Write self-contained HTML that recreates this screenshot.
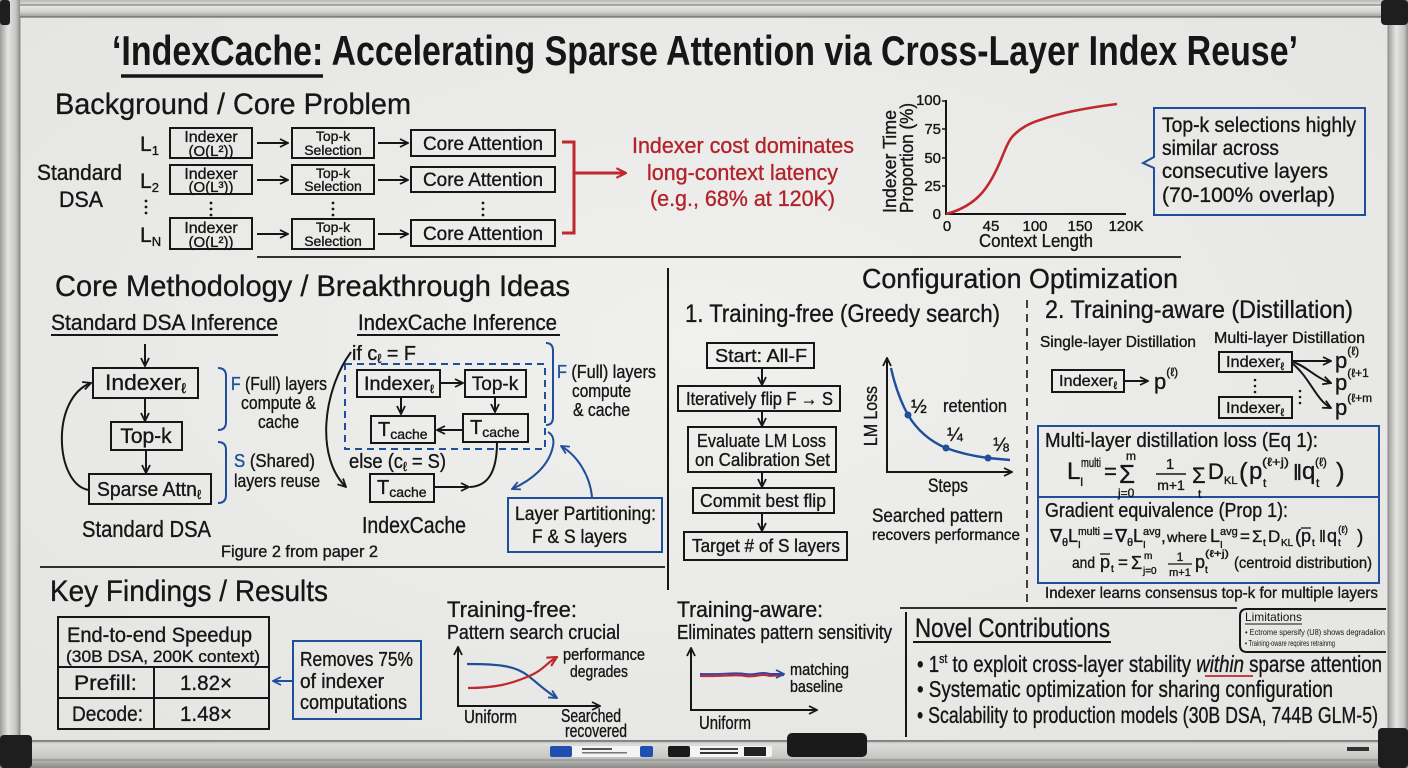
<!DOCTYPE html>
<html><head><meta charset="utf-8"><style>
html,body{margin:0;padding:0;background:#ebebe9;overflow:hidden}
svg{display:block}
text{font-family:"Liberation Sans","DejaVu Sans",sans-serif;fill:#161616;stroke:#161616;stroke-width:0.35}
.b{fill:#1f4e9a;stroke:#1f4e9a}.r{fill:#b3232b;stroke:#b3232b}
.ns{stroke:none}
.bx{fill:none;stroke:#161616;stroke-width:2}
.ln{fill:none;stroke:#161616;stroke-width:2}
</style></head><body>
<svg width="1408" height="768" viewBox="0 0 1408 768" xmlns="http://www.w3.org/2000/svg">
<defs>
<radialGradient id="bg" cx="50%" cy="45%" r="75%"><stop offset="0" stop-color="#f0f0ee"/><stop offset="1" stop-color="#e3e3e1"/></radialGradient>
<linearGradient id="gt" x1="0" y1="0" x2="0" y2="1"><stop offset="0" stop-color="#b9b9b7"/><stop offset=".35" stop-color="#e8e8e6"/><stop offset=".7" stop-color="#d2d2d0"/><stop offset="1" stop-color="#9a9a98"/></linearGradient>
<linearGradient id="gl" x1="0" y1="0" x2="1" y2="0"><stop offset="0" stop-color="#9c9c9a"/><stop offset=".4" stop-color="#e4e4e2"/><stop offset=".8" stop-color="#c4c4c2"/><stop offset="1" stop-color="#8e8e8c"/></linearGradient>
<linearGradient id="gb" x1="0" y1="0" x2="0" y2="1"><stop offset="0" stop-color="#a8a8a6"/><stop offset=".15" stop-color="#dcdcda"/><stop offset=".6" stop-color="#c8c8c6"/><stop offset="1" stop-color="#8c8c8a"/></linearGradient>
<marker id="ak" viewBox="0 0 10 10" refX="9" refY="5" markerWidth="10" markerHeight="10" markerUnits="userSpaceOnUse" orient="auto-start-reverse"><path d="M1 1 L9 5 L1 9" fill="none" stroke="#161616" stroke-width="1.8"/></marker>
<marker id="ab" viewBox="0 0 10 10" refX="9" refY="5" markerWidth="10" markerHeight="10" markerUnits="userSpaceOnUse" orient="auto-start-reverse"><path d="M1 1 L9 5 L1 9" fill="none" stroke="#1f4e9a" stroke-width="1.8"/></marker>
<marker id="ar" viewBox="0 0 10 10" refX="9" refY="5" markerWidth="12" markerHeight="12" markerUnits="userSpaceOnUse" orient="auto"><path d="M1 1 L9 5 L1 9" fill="none" stroke="#c0282d" stroke-width="1.8"/></marker>
</defs>

<!-- board -->
<rect width="1408" height="768" fill="url(#bg)"/>
<!-- frame -->
<rect x="0" y="0" width="1408" height="17" fill="url(#gt)"/>
<line x1="0" y1="5" x2="1408" y2="5" stroke="#6a6a6a" stroke-width="1"/>
<line x1="0" y1="17" x2="1408" y2="17" stroke="#6e6e6e" stroke-width="1.2"/>
<rect x="0" y="0" width="20" height="768" fill="url(#gl)"/>
<line x1="20" y1="17" x2="20" y2="740" stroke="#8a8a88" stroke-width="1"/>
<rect x="1388" y="0" width="20" height="768" fill="url(#gl)"/>
<line x1="1388" y1="17" x2="1388" y2="740" stroke="#8a8a88" stroke-width="1"/>
<rect x="0" y="740" width="1408" height="28" fill="url(#gb)"/>
<line x1="0" y1="741" x2="1408" y2="741" stroke="#6a6a6a" stroke-width="1.2"/>
<line x1="0" y1="760" x2="1408" y2="760" stroke="#8a8a88" stroke-width="1"/>
<rect x="0" y="0" width="10" height="25" rx="3" fill="#1e1e1e"/>
<rect x="1381" y="0" width="27" height="25" rx="4" fill="#1e1e1e"/>
<rect x="0" y="735" width="32" height="33" rx="4" fill="#1e1e1e"/>
<rect x="1378" y="728" width="30" height="40" rx="4" fill="#1e1e1e"/>
<!-- tray items -->
<rect x="550" y="746" width="103" height="11" rx="2" fill="#f4f4f4"/>
<rect x="550" y="746" width="22" height="11" rx="2" fill="#1f4fb0"/>
<rect x="640" y="746" width="13" height="11" rx="2" fill="#1f4fb0"/>
<rect x="582" y="748" width="30" height="2" fill="#555"/><rect x="582" y="752" width="45" height="1.5" fill="#777"/>
<rect x="668" y="746" width="104" height="11" rx="2" fill="#f4f4f4"/>
<rect x="668" y="746" width="22" height="11" rx="2" fill="#1a1a1a"/>
<rect x="744" y="747" width="22" height="9" fill="#222"/>
<rect x="700" y="748" width="38" height="2" fill="#444"/><rect x="700" y="752" width="38" height="2" fill="#333"/>
<rect x="787" y="733" width="80" height="24" rx="5" fill="#1a1a1a"/>
<rect x="1347" y="747" width="22" height="4" fill="#333"/>

<!-- TITLE -->
<text x="112" y="65" font-size="42" font-weight="bold" class="ns" textLength="1186" lengthAdjust="spacingAndGlyphs">‘IndexCache: Accelerating Sparse Attention via Cross-Layer Index Reuse’</text>
<line x1="121" y1="76" x2="323" y2="76" stroke="#161616" stroke-width="3.5"/>

<!-- BACKGROUND -->
<text x="55" y="114" font-size="30" textLength="356" lengthAdjust="spacingAndGlyphs">Background / Core Problem</text>
<text x="37" y="180" font-size="22" textLength="85" lengthAdjust="spacingAndGlyphs">Standard</text>
<text x="59" y="207" font-size="22" textLength="44" lengthAdjust="spacingAndGlyphs">DSA</text>
<text x="140" y="151" font-size="21">L<tspan font-size="13" dy="4">1</tspan></text>
<text x="140" y="188" font-size="21">L<tspan font-size="13" dy="4">2</tspan></text>
<text x="140" y="242" font-size="21">L<tspan font-size="13" dy="4">N</tspan></text>
<g fill="#161616">
<circle cx="146" cy="201" r="1.4"/><circle cx="146" cy="207" r="1.4"/><circle cx="146" cy="213" r="1.4"/>
<circle cx="211" cy="203" r="1.4"/><circle cx="211" cy="209" r="1.4"/><circle cx="211" cy="215" r="1.4"/>
<circle cx="333" cy="203" r="1.4"/><circle cx="333" cy="209" r="1.4"/><circle cx="333" cy="215" r="1.4"/>
<circle cx="483" cy="203" r="1.4"/><circle cx="483" cy="209" r="1.4"/><circle cx="483" cy="215" r="1.4"/>
</g>
<!-- row boxes -->
<g>
<rect x="170" y="128" width="82" height="30" fill="#f4cec8" class="bx"/>
<rect x="170" y="165" width="82" height="29" fill="#f4cec8" class="bx"/>
<rect x="170" y="218" width="82" height="31" fill="#f4cec8" class="bx"/>
<rect x="292" y="128" width="82" height="30" class="bx"/>
<rect x="292" y="165" width="82" height="29" class="bx"/>
<rect x="292" y="219" width="82" height="30" class="bx"/>
<rect x="411" y="130" width="144" height="26" class="bx"/>
<rect x="411" y="167" width="144" height="25" class="bx"/>
<rect x="411" y="220" width="144" height="26" class="bx"/>
</g>
<g font-size="16" text-anchor="middle">
<text x="211" y="142">Indexer</text><text x="211" y="156" font-size="15">(O(L²))</text>
<text x="211" y="179">Indexer</text><text x="211" y="192" font-size="15">(O(L³))</text>
<text x="211" y="233">Indexer</text><text x="211" y="247" font-size="15">(O(L²))</text>
</g>
<g font-size="14" text-anchor="middle">
<text x="333" y="141">Top-k</text><text x="333" y="155">Selection</text>
<text x="333" y="178">Top-k</text><text x="333" y="191">Selection</text>
<text x="333" y="232">Top-k</text><text x="333" y="246">Selection</text>
</g>
<g font-size="19">
<text x="423" y="150" textLength="120" lengthAdjust="spacingAndGlyphs">Core Attention</text>
<text x="423" y="186" textLength="120" lengthAdjust="spacingAndGlyphs">Core Attention</text>
<text x="423" y="240" textLength="120" lengthAdjust="spacingAndGlyphs">Core Attention</text>
</g>
<g class="ln" marker-end="url(#ak)">
<path d="M257 143 H288"/><path d="M378 143 H408"/>
<path d="M257 180 H288"/><path d="M378 180 H408"/>
<path d="M257 234 H288"/><path d="M378 234 H408"/>
</g>
<path d="M562 142 H574 V233 H562" fill="none" stroke="#c0282d" stroke-width="3"/>
<path d="M574 173 H626" fill="none" stroke="#c0282d" stroke-width="3" marker-end="url(#ar)"/>
<g font-size="22">
<text x="632" y="153" class="r" textLength="222" lengthAdjust="spacingAndGlyphs">Indexer cost dominates</text>
<text x="647" y="180" class="r" textLength="191" lengthAdjust="spacingAndGlyphs">long-context latency</text>
<text x="650" y="206" class="r" textLength="185" lengthAdjust="spacingAndGlyphs">(e.g., 68% at 120K)</text>
</g>
<!-- chart -->
<path d="M946 100 V214 H1126" class="ln"/>
<g stroke="#161616" stroke-width="1.5"><line x1="942" y1="129" x2="946" y2="129"/><line x1="942" y1="158" x2="946" y2="158"/><line x1="942" y1="186" x2="946" y2="186"/><line x1="942" y1="101" x2="946" y2="101"/></g>
<g font-size="15" text-anchor="end">
<text x="941" y="105">100</text><text x="941" y="134">75</text><text x="941" y="163">50</text><text x="941" y="191">25</text><text x="941" y="219">0</text>
</g>
<g font-size="15" text-anchor="middle">
<text x="947" y="231">0</text><text x="991" y="231">45</text><text x="1035" y="231">100</text><text x="1080" y="231">150</text><text x="1126" y="231">120K</text>
</g>
<text x="979" y="247" font-size="18" textLength="114" lengthAdjust="spacingAndGlyphs">Context Length</text>
<text transform="translate(896 213) rotate(-90)" font-size="18" textLength="103" lengthAdjust="spacingAndGlyphs">Indexer Time</text>
<text transform="translate(913 213) rotate(-90)" font-size="18" textLength="110" lengthAdjust="spacingAndGlyphs">Proportion (%)</text>
<path d="M946 214 C 958 211, 968 206, 977 198 C 986 190, 994 176, 1000 162 C 1005 150, 1008 142, 1012 137 C 1020 128, 1030 123, 1040 120 C 1060 113, 1085 108, 1117 104" fill="none" stroke="#c0282d" stroke-width="2.6"/>
<!-- callout -->
<path d="M1154 108 H1365 V215 H1154 V168 L1143 163 L1154 157 Z" fill="none" stroke="#1f4e9a" stroke-width="2"/>
<g font-size="21">
<text x="1162" y="132" textLength="194" lengthAdjust="spacingAndGlyphs">Top-k selections highly</text>
<text x="1162" y="155" textLength="117" lengthAdjust="spacingAndGlyphs">similar across</text>
<text x="1162" y="178" textLength="166" lengthAdjust="spacingAndGlyphs">consecutive layers</text>
<text x="1162" y="202" textLength="173" lengthAdjust="spacingAndGlyphs">(70-100% overlap)</text>
</g>
<line x1="257" y1="257" x2="1181" y2="257" stroke="#161616" stroke-width="1.8"/>

<!-- CORE METHODOLOGY -->
<text x="55" y="296" font-size="30" textLength="515" lengthAdjust="spacingAndGlyphs">Core Methodology / Breakthrough Ideas</text>
<text x="51" y="330" font-size="22" textLength="227" lengthAdjust="spacingAndGlyphs">Standard DSA Inference</text>
<line x1="51" y1="335" x2="278" y2="335" stroke="#161616" stroke-width="2"/>
<text x="358" y="330" font-size="22" textLength="199" lengthAdjust="spacingAndGlyphs">IndexCache Inference</text>
<line x1="357" y1="335" x2="560" y2="335" stroke="#161616" stroke-width="2"/>

<!-- standard DSA diagram -->
<path d="M145 344 V366" class="ln" marker-end="url(#ak)"/>
<rect x="93" y="368" width="105" height="30" fill="#f3e3dd" class="bx"/>
<text x="105" y="390" font-size="22" textLength="81" lengthAdjust="spacingAndGlyphs">Indexer<tspan font-size="14" dy="3">ℓ</tspan></text>
<path d="M145 398 V421" class="ln" marker-end="url(#ak)"/>
<rect x="111" y="422" width="71" height="28" class="bx"/>
<text x="146" y="443" font-size="21" text-anchor="middle">Top-k</text>
<path d="M146 450 V473" class="ln" marker-end="url(#ak)"/>
<rect x="89" y="474" width="122" height="30" class="bx"/>
<text x="97" y="496" font-size="20" textLength="104" lengthAdjust="spacingAndGlyphs">Sparse Attn<tspan font-size="13" dy="3">ℓ</tspan></text>
<path d="M89 490 C 55 485, 50 398, 91 383" class="ln" marker-end="url(#ak)"/>
<g fill="none" stroke="#1f4e9a" stroke-width="2">
<path d="M218 368 Q226 368 226 376 V422 Q226 430 218 430"/>
<path d="M218 442 Q226 442 226 450 V495 Q226 503 218 503"/>
</g>
<g font-size="18">
<text x="231" y="390" textLength="96" lengthAdjust="spacingAndGlyphs"><tspan class="b">F</tspan> (Full) layers</text>
<text x="241" y="409" textLength="75" lengthAdjust="spacingAndGlyphs">compute &amp;</text>
<text x="258" y="428" textLength="41" lengthAdjust="spacingAndGlyphs">cache</text>
<text x="234" y="467" textLength="81" lengthAdjust="spacingAndGlyphs"><tspan class="b">S</tspan> (Shared)</text>
<text x="234" y="487" textLength="86" lengthAdjust="spacingAndGlyphs">layers reuse</text>
</g>
<text x="82" y="537" font-size="23" textLength="129" lengthAdjust="spacingAndGlyphs">Standard DSA</text>
<text x="221" y="557" font-size="17" textLength="157" lengthAdjust="spacingAndGlyphs">Figure 2 from paper 2</text>

<!-- IndexCache diagram -->
<text x="352" y="360" font-size="20" textLength="64" lengthAdjust="spacingAndGlyphs">if c<tspan font-size="13" dy="3">ℓ</tspan><tspan dy="-3"> = F</tspan></text>
<rect x="345" y="364" width="200" height="85" fill="none" stroke="#1f4e9a" stroke-width="2" stroke-dasharray="7 5"/>
<rect x="357" y="370" width="83" height="27" class="bx"/>
<text x="364" y="390" font-size="19" textLength="70" lengthAdjust="spacingAndGlyphs">Indexer<tspan font-size="12" dy="3">ℓ</tspan></text>
<path d="M441 383 H463" class="ln" marker-end="url(#ak)"/>
<rect x="465" y="370" width="61" height="27" class="bx"/>
<text x="495" y="390" font-size="19" text-anchor="middle">Top-k</text>
<path d="M401 398 V414" class="ln" marker-end="url(#ak)"/>
<path d="M495 398 V412" class="ln" marker-end="url(#ak)"/>
<rect x="371" y="416" width="64" height="27" class="bx"/>
<text x="378" y="436" font-size="20">T<tspan font-size="14" dy="3">cache</tspan></text>
<rect x="463" y="414" width="65" height="28" fill="#cfe0f1" class="bx"/>
<text x="470" y="434" font-size="20">T<tspan font-size="14" dy="3">cache</tspan></text>
<path d="M462 430 H437" class="ln" marker-end="url(#ak)"/>
<text x="349" y="468" font-size="20" textLength="97" lengthAdjust="spacingAndGlyphs">else (c<tspan font-size="13" dy="3">ℓ</tspan><tspan dy="-3"> = S)</tspan></text>
<rect x="370" y="474" width="64" height="28" class="bx"/>
<text x="377" y="494" font-size="20">T<tspan font-size="14" dy="3">cache</tspan></text>
<path d="M434 487 H469" class="ln" marker-end="url(#ak)"/>
<path d="M497 442 C 497 472, 488 486, 470 487" class="ln"/>
<path d="M351 352 C 322 392, 316 458, 346 487" class="ln" marker-end="url(#ak)"/>
<g fill="none" stroke="#1f4e9a" stroke-width="2">
<path d="M546 343 Q553 343 553 351 V417 Q553 425 546 425"/>
<path d="M548 432 Q555 436 553 446 C 549 466 532 480 512 489" marker-end="url(#ab)"/>
<path d="M592 497 C 590 476 578 456 561 446" marker-end="url(#ab)"/>
</g>
<g font-size="18">
<text x="557" y="378" textLength="99" lengthAdjust="spacingAndGlyphs"><tspan class="b">F</tspan> (Full) layers</text>
<text x="572" y="397" textLength="59" lengthAdjust="spacingAndGlyphs">compute</text>
<text x="573" y="416" textLength="57" lengthAdjust="spacingAndGlyphs">&amp; cache</text>
</g>
<rect x="508" y="498" width="154" height="54" fill="none" stroke="#1f4e9a" stroke-width="2"/>
<text x="515" y="520" font-size="19" textLength="141" lengthAdjust="spacingAndGlyphs">Layer Partitioning:</text>
<text x="532" y="543" font-size="19" textLength="95" lengthAdjust="spacingAndGlyphs">F &amp; S layers</text>
<text x="362" y="533" font-size="23" textLength="104" lengthAdjust="spacingAndGlyphs">IndexCache</text>
<line x1="40" y1="567" x2="665" y2="567" stroke="#161616" stroke-width="1.8"/>
<line x1="668" y1="268" x2="668" y2="590" stroke="#161616" stroke-width="2"/>

<!-- CONFIGURATION -->
<text x="862" y="288" font-size="28" textLength="316" lengthAdjust="spacingAndGlyphs">Configuration Optimization</text>
<text x="685" y="322" font-size="25" textLength="315" lengthAdjust="spacingAndGlyphs">1. Training-free (Greedy search)</text>
<line x1="1027" y1="300" x2="1027" y2="602" stroke="#161616" stroke-width="1.6" stroke-dasharray="8 6"/>
<rect x="707" y="343" width="107" height="25" class="bx"/>
<text x="715" y="362" font-size="18" textLength="92" lengthAdjust="spacingAndGlyphs">Start: All-F</text>
<path d="M762 368 V385" class="ln" marker-end="url(#ak)"/>
<rect x="678" y="386" width="162" height="25" class="bx"/>
<text x="686" y="405" font-size="18" textLength="147" lengthAdjust="spacingAndGlyphs">Iteratively flip F → S</text>
<path d="M762 411 V426" class="ln" marker-end="url(#ak)"/>
<rect x="688" y="427" width="148" height="45" class="bx"/>
<text x="697" y="447" font-size="18" textLength="129" lengthAdjust="spacingAndGlyphs">Evaluate LM Loss</text>
<text x="695" y="466" font-size="18" textLength="135" lengthAdjust="spacingAndGlyphs">on Calibration Set</text>
<path d="M762 472 V487" class="ln" marker-end="url(#ak)"/>
<rect x="693" y="488" width="141" height="25" class="bx"/>
<text x="700" y="507" font-size="18" textLength="126" lengthAdjust="spacingAndGlyphs">Commit best flip</text>
<path d="M762 513 V531" class="ln" marker-end="url(#ak)"/>
<rect x="684" y="532" width="163" height="28" class="bx"/>
<text x="692" y="552" font-size="18" textLength="148" lengthAdjust="spacingAndGlyphs">Target # of S layers</text>
<!-- LM loss chart -->
<path d="M887 358 V472 H1012" class="ln" marker-start="url(#ak)" marker-end="url(#ak)"/>
<text transform="translate(877 446) rotate(-90)" font-size="18" textLength="60" lengthAdjust="spacingAndGlyphs">LM Loss</text>
<path d="M891 368 Q 897 395 908 415 Q 922 438 946 448 Q 965 455 988 458 L 1010 460" fill="none" stroke="#1f4e9a" stroke-width="2.4"/>
<g fill="#1f4e9a"><circle cx="908" cy="415" r="3.5"/><circle cx="946" cy="448" r="3.5"/><circle cx="988" cy="458" r="3.5"/></g>
<text x="911" y="413" font-size="19">½</text>
<text x="943" y="412" font-size="18" textLength="64" lengthAdjust="spacingAndGlyphs">retention</text>
<text x="947" y="441" font-size="19">¼</text>
<text x="993" y="451" font-size="19">⅛</text>
<text x="928" y="492" font-size="19" textLength="40" lengthAdjust="spacingAndGlyphs">Steps</text>
<text x="872" y="522" font-size="19" textLength="131" lengthAdjust="spacingAndGlyphs">Searched pattern</text>
<text x="872" y="540" font-size="16" textLength="148" lengthAdjust="spacingAndGlyphs">recovers performance</text>

<!-- TRAINING AWARE -->
<text x="1045" y="318" font-size="25" textLength="308" lengthAdjust="spacingAndGlyphs">2. Training-aware (Distillation)</text>
<text x="1040" y="347" font-size="16" textLength="156" lengthAdjust="spacingAndGlyphs">Single-layer Distillation</text>
<text x="1214" y="343" font-size="16" textLength="151" lengthAdjust="spacingAndGlyphs">Multi-layer Distillation</text>
<rect x="1052" y="370" width="72" height="22" fill="#f6d9cb" class="bx"/>
<text x="1059" y="386" font-size="16" textLength="58" lengthAdjust="spacingAndGlyphs">Indexer<tspan font-size="11" dy="3">ℓ</tspan></text>
<path d="M1125 381 H1148" class="ln" marker-end="url(#ak)"/>
<text x="1154" y="389" font-size="22">p<tspan font-size="12" dy="-13">(ℓ)</tspan></text>
<rect x="1219" y="352" width="73" height="20" fill="#f6d9cb" class="bx"/>
<text x="1226" y="367" font-size="16" textLength="58" lengthAdjust="spacingAndGlyphs">Indexer<tspan font-size="11" dy="3">ℓ</tspan></text>
<rect x="1219" y="397" width="73" height="21" fill="#f6d9cb" class="bx"/>
<text x="1226" y="413" font-size="16" textLength="58" lengthAdjust="spacingAndGlyphs">Indexer<tspan font-size="11" dy="3">ℓ</tspan></text>
<g fill="#161616"><circle cx="1255" cy="380" r="1.3"/><circle cx="1255" cy="386" r="1.3"/><circle cx="1255" cy="392" r="1.3"/>
<circle cx="1300" cy="391" r="1.3"/><circle cx="1300" cy="397" r="1.3"/><circle cx="1300" cy="403" r="1.3"/></g>
<g class="ln" marker-end="url(#ak)">
<path d="M1293 361 H1331"/>
<path d="M1293 362 C 1306 366, 1316 378, 1331 383"/>
<path d="M1293 364 C 1310 378, 1316 400, 1331 408"/>
</g>
<text x="1335" y="368" font-size="22">p<tspan font-size="12" dy="-13">(ℓ)</tspan></text>
<text x="1335" y="390" font-size="22">p<tspan font-size="12" dy="-13">(ℓ+1</tspan></text>
<text x="1335" y="415" font-size="22">p<tspan font-size="12" dy="-13">(ℓ+m</tspan></text>
<!-- formula box -->
<rect x="1038" y="426" width="341" height="157" fill="none" stroke="#1f4e9a" stroke-width="2"/>
<line x1="1038" y1="497" x2="1379" y2="497" stroke="#1f4e9a" stroke-width="2"/>
<text x="1045" y="447" font-size="20" textLength="273" lengthAdjust="spacingAndGlyphs">Multi-layer distillation loss (Eq 1):</text>
<g class="ns">
<text x="1067" y="479" font-size="24">L</text>
<text x="1080" y="486" font-size="12">I</text>
<text x="1081" y="467" font-size="13" textLength="20" lengthAdjust="spacingAndGlyphs">multi</text>
<text x="1104" y="479" font-size="22">=</text>
<text x="1119" y="483" font-size="26">Σ</text>
<text x="1126" y="460" font-size="12">m</text>
<text x="1118" y="497" font-size="12">j=0</text>
<text x="1170" y="469" font-size="15" text-anchor="middle">1</text>
<line x1="1156" y1="474" x2="1186" y2="474" stroke="#161616" stroke-width="1.5"/>
<text x="1171" y="490" font-size="14" text-anchor="middle">m+1</text>
<text x="1192" y="483" font-size="22">Σ</text>
<text x="1198" y="498" font-size="12">t</text>
<text x="1208" y="479" font-size="22">D</text>
<text x="1224" y="484" font-size="11">KL</text>
<text x="1239" y="481" font-size="26">(</text>
<text x="1249" y="479" font-size="24">p</text>
<text x="1263" y="487" font-size="12">t</text>
<text x="1262" y="466" font-size="12" textLength="27" lengthAdjust="spacingAndGlyphs">(ℓ+j)</text>
<text x="1293" y="480" font-size="22">‖</text>
<text x="1302" y="479" font-size="24">q</text>
<text x="1316" y="487" font-size="12">t</text>
<text x="1315" y="466" font-size="12">(ℓ)</text>
<text x="1336" y="481" font-size="26">)</text>
</g>
<text x="1045" y="517" font-size="20" textLength="243" lengthAdjust="spacingAndGlyphs">Gradient equivalence (Prop 1):</text>
<g class="ns">
<text x="1050" y="542" font-size="18">∇</text><text x="1062" y="546" font-size="11">θ</text>
<text x="1068" y="542" font-size="18">L</text><text x="1078" y="548" font-size="10">I</text><text x="1078" y="535" font-size="11" textLength="22" lengthAdjust="spacingAndGlyphs">multi</text>
<text x="1103" y="542" font-size="17">=</text>
<text x="1115" y="542" font-size="18">∇</text><text x="1127" y="546" font-size="11">θ</text>
<text x="1133" y="542" font-size="18">L</text><text x="1143" y="548" font-size="10">I</text><text x="1143" y="535" font-size="11">avg</text>
<text x="1161" y="542" font-size="17">,</text>
<text x="1167" y="542" font-size="14" textLength="40" lengthAdjust="spacingAndGlyphs">where</text>
<text x="1210" y="542" font-size="18">L</text><text x="1220" y="548" font-size="10">I</text><text x="1220" y="535" font-size="11">avg</text>
<text x="1240" y="542" font-size="17">=</text>
<text x="1252" y="542" font-size="17">Σ</text><text x="1263" y="546" font-size="10">t</text>
<text x="1268" y="542" font-size="17">D</text><text x="1281" y="546" font-size="10">KL</text>
<text x="1295" y="543" font-size="19">(</text>
<text x="1301" y="542" font-size="18">p</text><line x1="1301" y1="528" x2="1311" y2="528" stroke="#161616" stroke-width="1.3"/><text x="1312" y="546" font-size="10">t</text>
<text x="1319" y="542" font-size="17">‖</text>
<text x="1327" y="542" font-size="18">q</text><text x="1338" y="546" font-size="10">t</text><text x="1338" y="533" font-size="10">(ℓ)</text>
<text x="1357" y="543" font-size="19">)</text>
</g>
<g class="ns">
<text x="1072" y="568" font-size="16" textLength="23" lengthAdjust="spacingAndGlyphs">and</text>
<text x="1100" y="568" font-size="18">p</text><line x1="1100" y1="554" x2="1110" y2="554" stroke="#161616" stroke-width="1.3"/><text x="1111" y="572" font-size="10">t</text>
<text x="1118" y="568" font-size="17">=</text>
<text x="1131" y="569" font-size="18">Σ</text>
<text x="1144" y="559" font-size="10">m</text>
<text x="1143" y="574" font-size="10">j=0</text>
<text x="1180" y="561" font-size="12" text-anchor="middle">1</text>
<line x1="1168" y1="564" x2="1192" y2="564" stroke="#161616" stroke-width="1.2"/>
<text x="1180" y="576" font-size="11" text-anchor="middle">m+1</text>
<text x="1195" y="568" font-size="18">p</text>
<text x="1205" y="573" font-size="10">t</text>
<text x="1205" y="557" font-size="10" textLength="24" lengthAdjust="spacingAndGlyphs">(ℓ+j)</text>
<text x="1234" y="568" font-size="16" textLength="138" lengthAdjust="spacingAndGlyphs">(centroid distribution)</text>
</g>
<text x="1045" y="598" font-size="16" textLength="333" lengthAdjust="spacingAndGlyphs">Indexer learns consensus top-k for multiple layers</text>

<!-- KEY FINDINGS -->
<text x="50" y="601" font-size="30" textLength="278" lengthAdjust="spacingAndGlyphs">Key Findings / Results</text>
<rect x="58" y="617" width="211" height="112" class="bx"/>
<line x1="58" y1="667" x2="269" y2="667" stroke="#161616" stroke-width="2"/>
<line x1="58" y1="698" x2="269" y2="698" stroke="#161616" stroke-width="2"/>
<line x1="154" y1="667" x2="154" y2="729" stroke="#161616" stroke-width="2"/>
<text x="67" y="642" font-size="21" textLength="185" lengthAdjust="spacingAndGlyphs">End-to-end Speedup</text>
<text x="66" y="662" font-size="17" textLength="194" lengthAdjust="spacingAndGlyphs">(30B DSA, 200K context)</text>
<text x="74" y="690" font-size="21" textLength="63" lengthAdjust="spacingAndGlyphs">Prefill:</text>
<text x="180" y="690" font-size="21" textLength="52" lengthAdjust="spacingAndGlyphs">1.82×</text>
<text x="72" y="721" font-size="21" textLength="71" lengthAdjust="spacingAndGlyphs">Decode:</text>
<text x="180" y="721" font-size="21" textLength="52" lengthAdjust="spacingAndGlyphs">1.48×</text>
<path d="M293 681 H273" fill="none" stroke="#1f4e9a" stroke-width="2" marker-end="url(#ab)"/>
<rect x="293" y="641" width="128" height="78" fill="none" stroke="#1f4e9a" stroke-width="2"/>
<text x="300" y="666" font-size="20" textLength="113" lengthAdjust="spacingAndGlyphs">Removes 75%</text>
<text x="300" y="688" font-size="20" textLength="84" lengthAdjust="spacingAndGlyphs">of indexer</text>
<text x="300" y="709" font-size="20" textLength="107" lengthAdjust="spacingAndGlyphs">computations</text>

<!-- training-free / aware mini charts -->
<text x="447" y="617" font-size="22" textLength="130" lengthAdjust="spacingAndGlyphs">Training-free:</text>
<text x="447" y="639" font-size="20" textLength="173" lengthAdjust="spacingAndGlyphs">Pattern search crucial</text>
<path d="M458 647 V706 H600" class="ln" marker-start="url(#ak)" marker-end="url(#ak)"/>
<path d="M467 664 C 500 664, 515 666, 527 675 S 545 691, 557 698" fill="none" stroke="#1f4e9a" stroke-width="2.2" marker-end="url(#ab)"/>
<path d="M468 688 C 495 688, 510 684, 527 677 S 545 664, 557 657" fill="none" stroke="#c0282d" stroke-width="2.2" marker-end="url(#ar)"/>
<text x="563" y="660" font-size="17" textLength="82" lengthAdjust="spacingAndGlyphs">performance</text>
<text x="570" y="677" font-size="17" textLength="58" lengthAdjust="spacingAndGlyphs">degrades</text>
<text x="464" y="723" font-size="18" textLength="53" lengthAdjust="spacingAndGlyphs">Uniform</text>
<text x="561" y="722" font-size="18" textLength="60" lengthAdjust="spacingAndGlyphs">Searched</text>
<text x="565" y="737" font-size="18" textLength="62" lengthAdjust="spacingAndGlyphs">recovered</text>
<text x="677" y="617" font-size="22" textLength="146" lengthAdjust="spacingAndGlyphs">Training-aware:</text>
<text x="677" y="639" font-size="20" textLength="215" lengthAdjust="spacingAndGlyphs">Eliminates pattern sensitivity</text>
<path d="M691 648 V710 H817" class="ln" marker-start="url(#ak)" marker-end="url(#ak)"/>
<path d="M700 676 C 720 677, 735 674, 745 676 S 760 673, 770 676 L 784 675" fill="none" stroke="#c0282d" stroke-width="2"/>
<path d="M700 674 C 720 675, 735 672, 745 674 S 760 671, 770 674 L 784 674" fill="none" stroke="#3b3f9e" stroke-width="2" marker-end="url(#ab)"/>
<text x="790" y="675" font-size="17" textLength="59" lengthAdjust="spacingAndGlyphs">matching</text>
<text x="790" y="692" font-size="17" textLength="53" lengthAdjust="spacingAndGlyphs">baseline</text>
<text x="699" y="729" font-size="18" textLength="52" lengthAdjust="spacingAndGlyphs">Uniform</text>

<!-- NOVEL CONTRIBUTIONS -->
<line x1="900" y1="608" x2="1237" y2="608" stroke="#161616" stroke-width="1.8"/>
<line x1="906" y1="612" x2="906" y2="737" stroke="#161616" stroke-width="2"/>
<path d="M1386 609 H1247 Q1240 609 1240 616 V645 Q1240 652 1247 652 H1386" fill="none" stroke="#161616" stroke-width="2"/>
<text x="1245" y="621" font-size="12" class="ns" textLength="57" lengthAdjust="spacingAndGlyphs">Limitations</text>
<line x1="1245" y1="624" x2="1302" y2="624" stroke="#161616" stroke-width="1"/>
<text x="1245" y="635" font-size="8" class="ns" textLength="140" lengthAdjust="spacingAndGlyphs">• Ectrome spersify (U8) shows degradalion</text>
<text x="1245" y="646" font-size="8" class="ns" textLength="90" lengthAdjust="spacingAndGlyphs">• Training-oware reqoires retrainmg</text>
<text x="915" y="637" font-size="27" textLength="195" lengthAdjust="spacingAndGlyphs">Novel Contributions</text>
<line x1="913" y1="642" x2="1111" y2="642" stroke="#161616" stroke-width="2"/>
<text x="917" y="672" font-size="23" textLength="465" lengthAdjust="spacingAndGlyphs">• 1<tspan font-size="13" dy="-9">st</tspan><tspan dy="9"> to exploit cross-layer stability </tspan><tspan font-style="italic">within</tspan> sparse attention</text>
<line x1="1205" y1="676" x2="1253" y2="676" stroke="#c0282d" stroke-width="1.8"/>
<text x="917" y="697" font-size="23" textLength="416" lengthAdjust="spacingAndGlyphs">• Systematic optimization for sharing configuration</text>
<text x="917" y="723" font-size="23" textLength="461" lengthAdjust="spacingAndGlyphs">• Scalability to production models (30B DSA, 744B GLM-5)</text>
</svg>
</body></html>
